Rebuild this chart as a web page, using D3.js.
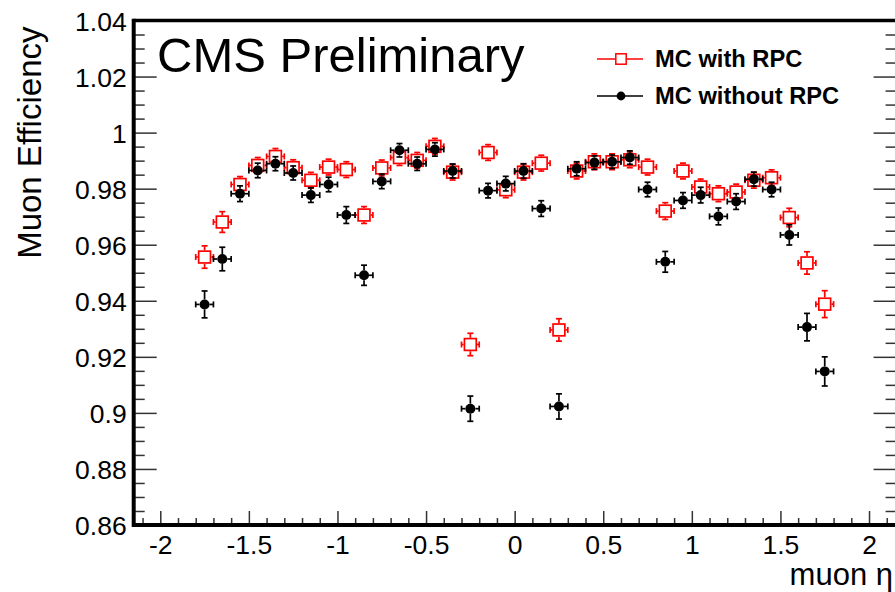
<!DOCTYPE html>
<html>
<head>
<meta charset="utf-8">
<script src="https://cdn.jsdelivr.net/npm/d3@7"></script>
<style>
  html, body { margin: 0; padding: 0; background: #fff; }
  svg { display: block; font-family: "Liberation Sans", Arial, Helvetica, sans-serif; }
</style>
</head>
<body>
<svg id="chart" width="895" height="592"></svg>
<script>
// ---- data ----
const etaBins = [-1.75,-1.65,-1.55,-1.45,-1.35,-1.25,-1.15,-1.05,-0.95,-0.85,-0.75,-0.65,-0.55,-0.45,-0.35,-0.25,-0.15,-0.05,
                  0.05,0.15,0.25,0.35,0.45,0.55,0.65,0.75,0.85,0.95,1.05,1.15,1.25,1.35,1.45,1.55,1.65,1.75];
const binHalfWidth = 0.05;

const effWithRPC = [0.9556,0.9681,0.9815,0.9883,0.9915,0.9875,0.9830,0.9877,0.9868,0.9706,0.9874,0.9911,0.9901,0.9951,0.9859,0.9244,0.9929,0.9796,
                    0.9859,0.9891,0.9296,0.9863,0.9896,0.9896,0.9903,0.9877,0.9720,0.9863,0.9806,0.9782,0.9788,0.9830,0.9839,0.9697,0.9535,0.9388];
const errWithRPC = [0.0040,0.0037,0.0025,0.0023,0.0023,0.0023,0.0023,0.0023,0.0023,0.0030,0.0023,0.0023,0.0023,0.0023,0.0023,0.0040,0.0023,0.0023,
                    0.0023,0.0023,0.0040,0.0023,0.0023,0.0023,0.0023,0.0023,0.0030,0.0023,0.0023,0.0023,0.0025,0.0023,0.0023,0.0033,0.0040,0.0048];

const effWithoutRPC = [0.9387,0.9549,0.9782,0.9865,0.9889,0.9856,0.9777,0.9815,0.9706,0.9491,0.9826,0.9937,0.9889,0.9940,0.9863,0.9015,0.9793,0.9818,
                       0.9863,0.9729,0.9023,0.9871,0.9893,0.9896,0.9911,0.9797,0.9539,0.9758,0.9777,0.9701,0.9754,0.9834,0.9797,0.9635,0.9306,0.9148];
const errWithoutRPC = [0.0048,0.0042,0.0028,0.0026,0.0025,0.0025,0.0026,0.0026,0.0030,0.0036,0.0026,0.0024,0.0024,0.0024,0.0025,0.0045,0.0026,0.0026,
                       0.0026,0.0028,0.0045,0.0025,0.0024,0.0024,0.0024,0.0026,0.0037,0.0028,0.0028,0.0030,0.0028,0.0025,0.0026,0.0036,0.0049,0.0052];

const xMajorTicks = [-2,-1.5,-1,-0.5,0,0.5,1,1.5,2];
const xTickLabels = ["-2","-1.5","-1","-0.5","0","0.5","1","1.5","2"];
const yMajorTicks = [0.86,0.88,0.90,0.92,0.94,0.96,0.98,1.00,1.02,1.04];
const yTickLabels = ["0.86","0.88","0.9","0.92","0.94","0.96","0.98","1","1.02","1.04"];

const seriesNames = ["MC with RPC", "MC without RPC"];
const yTitle = "Muon Efficiency";
const xTitle = "muon η";
const cmsLabel = "CMS Preliminary";

// ---- layout ----
const svg = d3.select("#chart");
const frame = { left: 133.7, right: 895.6, top: 20.5, bottom: 525 };

const x = d3.scaleLinear().domain([-2.15, 2.15]).range([frame.left, frame.right]);
const y = d3.scaleLinear().domain([0.86, 1.04]).range([frame.bottom, frame.top]);

const tickColor = "#333";
const fontTick = 26.5;

// minor ticks
const xMinor = d3.range(-21, 22).map(d => d / 10).filter(v => !xMajorTicks.some(m => Math.abs(m - v) < 1e-9));
const yMinor = d3.range(172, 209).map(d => d / 200).filter(v => !yMajorTicks.some(m => Math.abs(m - v) < 1e-9));

function styleAxis(g) {
  g.select(".domain").remove();
  g.selectAll(".tick line").attr("stroke", tickColor).attr("stroke-width", 1.5);
  g.selectAll(".tick text").attr("fill", "#000").attr("font-size", fontTick);
}

// bottom axis
svg.append("g").attr("transform", `translate(0,${frame.bottom})`)
  .call(d3.axisBottom(x).tickValues(xMajorTicks).tickSize(-14).tickPadding(10)
        .tickFormat((d, i) => xTickLabels[i]))
  .call(styleAxis);
svg.append("g").attr("transform", `translate(0,${frame.bottom})`)
  .call(d3.axisBottom(x).tickValues(xMinor).tickSize(-7).tickFormat(""))
  .call(styleAxis);

// left axis
svg.append("g").attr("transform", `translate(${frame.left},0)`)
  .call(d3.axisLeft(y).tickValues(yMajorTicks).tickSize(-23).tickPadding(7)
        .tickFormat((d, i) => yTickLabels[i]))
  .call(styleAxis)
  .call(g => g.selectAll(".tick text").attr("dy", "0.36em"));
svg.append("g").attr("transform", `translate(${frame.left},0)`)
  .call(d3.axisLeft(y).tickValues(yMinor).tickSize(-11).tickFormat(""))
  .call(styleAxis);

// right axis (ticks only; frame edge lies just outside the picture)
svg.append("g").attr("transform", `translate(${frame.right},0)`)
  .call(d3.axisRight(y).tickValues(yMajorTicks).tickSize(-22).tickFormat(""))
  .call(styleAxis);
svg.append("g").attr("transform", `translate(${frame.right},0)`)
  .call(d3.axisRight(y).tickValues(yMinor).tickSize(-10).tickFormat(""))
  .call(styleAxis);

// frame
svg.append("line").attr("x1", frame.left).attr("x2", frame.right + 2).attr("y1", frame.top).attr("y2", frame.top)
  .attr("stroke", "#000").attr("stroke-width", 3.5);
svg.append("line").attr("x1", frame.left).attr("x2", frame.right + 2).attr("y1", frame.bottom).attr("y2", frame.bottom)
  .attr("stroke", "#000").attr("stroke-width", 4);
svg.append("line").attr("x1", frame.left).attr("x2", frame.left).attr("y1", frame.top - 1.75).attr("y2", frame.bottom + 2)
  .attr("stroke", "#000").attr("stroke-width", 4);

// ---- data points ----
function drawSeries(eff, err, color, half, drawMarker) {
  const g = svg.append("g");
  const capHalf = 3;
  const data = etaBins.map((eta, i) => ({ eta, v: eff[i], e: err[i] }));
  data.forEach(d => {
    const cx = x(d.eta), cy = y(d.v);
    const xl = x(d.eta - binHalfWidth), xr = x(d.eta + binHalfWidth);
    const ePx = Math.max(y(d.v - d.e) - cy, half + 1.2);
    const yt = cy - ePx, yb = cy + ePx;
    const lines = [
      [xl, cy, cx - half, cy], [cx + half, cy, xr, cy],
      [xl, cy - capHalf, xl, cy + capHalf], [xr, cy - capHalf, xr, cy + capHalf],
      [cx, yt, cx, cy - half], [cx, cy + half, cx, yb],
      [cx - capHalf, yt, cx + capHalf, yt], [cx - capHalf, yb, cx + capHalf, yb]
    ];
    lines.forEach(l => g.append("line")
      .attr("x1", l[0]).attr("y1", l[1]).attr("x2", l[2]).attr("y2", l[3])
      .attr("stroke", color).attr("stroke-width", 1.7));
    drawMarker(g, cx, cy);
  });
}

const sqHalf = 5.9;
const circR = 5.0;
function squareMarker(g, cx, cy) {
  g.append("rect").attr("x", cx - sqHalf).attr("y", cy - sqHalf)
    .attr("width", 2 * sqHalf).attr("height", 2 * sqHalf)
    .attr("fill", "none").attr("stroke", "#ff0000").attr("stroke-width", 1.7);
}
function circleMarker(g, cx, cy) {
  g.append("circle").attr("cx", cx).attr("cy", cy).attr("r", circR).attr("fill", "#000");
}

drawSeries(effWithRPC, errWithRPC, "#ff0000", sqHalf + 0.8, squareMarker);
drawSeries(effWithoutRPC, errWithoutRPC, "#000", circR, circleMarker);

// ---- texts ----
svg.append("text").attr("x", 157).attr("y", 72).attr("font-size", 49).attr("fill", "#000").text(cmsLabel);

svg.append("text")
  .attr("transform", `translate(41,${frame.top + 6}) rotate(-90)`)
  .attr("text-anchor", "end").attr("font-size", 33).attr("fill", "#000").text(yTitle);

svg.append("text").attr("x", 893).attr("y", 585).attr("text-anchor", "end")
  .attr("font-size", 31).attr("fill", "#000").text(xTitle);

// ---- legend ----
const legend = svg.append("g");
const legY = [59, 96];
const legColors = ["#ff0000", "#000"];
legY.forEach((ly, i) => {
  legend.append("line").attr("x1", 597).attr("x2", 643).attr("y1", ly).attr("y2", ly)
    .attr("stroke", legColors[i]).attr("stroke-width", 1.6);
  if (i === 0) {
    legend.append("rect").attr("x", 621 - 5.2).attr("y", ly - 5.2).attr("width", 10.4).attr("height", 10.4)
      .attr("fill", "#fff").attr("stroke", "#ff0000").attr("stroke-width", 1.5);
  } else {
    legend.append("circle").attr("cx", 621).attr("cy", ly).attr("r", 4.4).attr("fill", "#000");
  }
  legend.append("text").attr("x", 655).attr("y", ly + 7.5).attr("font-size", 23.7).attr("font-weight", "bold")
    .attr("fill", "#000").text(seriesNames[i]);
});
</script>
</body>
</html>
